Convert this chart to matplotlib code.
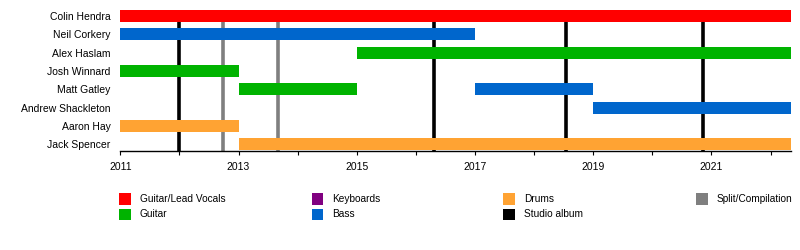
import matplotlib
matplotlib.use("Agg")
import matplotlib.pyplot as plt
from matplotlib.patches import Rectangle

plt.rcParams['font.family'] = ['Liberation Sans', 'DejaVu Sans']

# Band members, top to bottom
members = ["Colin Hendra", "Neil Corkery", "Alex Haslam", "Josh Winnard",
           "Matt Gatley", "Andrew Shackleton", "Aaron Hay", "Jack Spencer"]

END = 2022.34
# (member, start, end, role)
stints = [
    ("Colin Hendra", 2011.0, END, "Guitar/Lead Vocals"),
    ("Neil Corkery", 2011.0, 2017.0, "Bass"),
    ("Alex Haslam", 2015.0, END, "Guitar"),
    ("Josh Winnard", 2011.0, 2013.0, "Guitar"),
    ("Matt Gatley", 2013.0, 2015.0, "Guitar"),
    ("Matt Gatley", 2017.0, 2019.0, "Bass"),
    ("Andrew Shackleton", 2019.0, END, "Bass"),
    ("Aaron Hay", 2011.0, 2013.0, "Drums"),
    ("Jack Spencer", 2013.0, END, "Drums"),
]

studio_albums = [2012.0, 2016.31, 2018.54, 2020.85]
split_releases = [2012.74, 2013.66]

role_colors = {
    "Guitar/Lead Vocals": "#ff0000",
    "Guitar": "#00b300",
    "Keyboards": "#800080",
    "Bass": "#0066cc",
    "Drums": "#ffa333",
    "Studio album": "#000000",
    "Split/Compilation": "#7f7f7f",
}
legend_order = [["Guitar/Lead Vocals", "Guitar"], ["Keyboards", "Bass"],
                ["Drums", "Studio album"], ["Split/Compilation"]]

W, H = 800, 250
fig = plt.figure(figsize=(W / 100, H / 100), dpi=100)

left, right, top, bottom = 120.3, 790.7, 4, 150.5
ax = fig.add_axes([left / W, 1 - bottom / H, (right - left) / W, (bottom - top) / H])

ax.set_xlim(2011, END)
ax.set_ylim(7.34, -0.65)

ypos = {m: i for i, m in enumerate(members)}
bar_h = 0.652

for x in studio_albums:
    ax.plot([x, x], [7.34, 0], color=role_colors["Studio album"], lw=2.6,
            zorder=1, solid_capstyle="butt")
for x in split_releases:
    ax.plot([x, x], [7.34, 0], color=role_colors["Split/Compilation"], lw=2.6,
            zorder=1, solid_capstyle="butt")

for m, s, e, role in stints:
    ax.add_patch(Rectangle((s, ypos[m] - bar_h / 2), e - s, bar_h,
                           facecolor=role_colors[role], edgecolor="none", zorder=2))

ax.set_yticks(range(len(members)))
ax.set_yticklabels(members, fontsize=7.5)
ax.tick_params(axis="y", length=0, pad=7)

years = list(range(2011, 2023))
ax.set_xticks(years)
ax.set_xticklabels([str(y) if y % 2 == 1 else "" for y in years], fontsize=7.5)
ax.tick_params(axis="x", length=3, width=0.8, direction="out", pad=5.5, color="black")

for side in ["left", "right", "top"]:
    ax.spines[side].set_visible(False)
ax.spines["bottom"].set_linewidth(1.0)
ax.spines["bottom"].set_zorder(3)

# Legend drawn as two rows of swatches
col_x = [119, 311.5, 503, 696]
row_y = [193, 208.5]
sw = 11.5
for ci, col in enumerate(legend_order):
    for ri, role in enumerate(col):
        x0, y0 = col_x[ci], row_y[ri]
        fig.patches.append(Rectangle((x0 / W, 1 - (y0 + sw) / H), sw / W, sw / H,
                                     facecolor=role_colors[role], edgecolor="none",
                                     transform=fig.transFigure, figure=fig))
        fig.text((x0 + 21) / W, 1 - (y0 + sw / 2) / H, role, fontsize=7.3,
                 va="center", ha="left")

fig.savefig("out.png", dpi=100, facecolor="white")
